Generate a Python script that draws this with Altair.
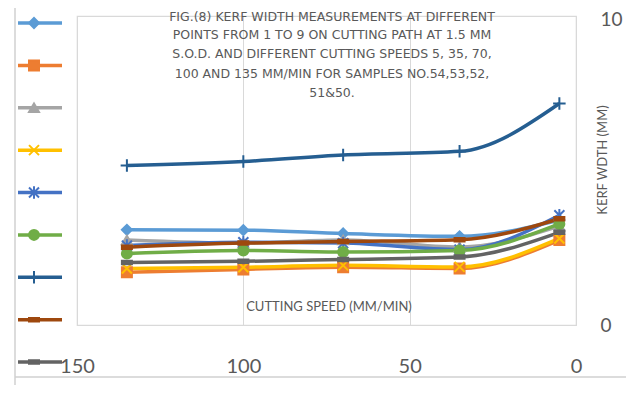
import altair as alt
import pandas as pd

# ---- data ----
speeds = [135, 100, 70, 35, 5]
series_names = ["Point 1", "Point 2", "Point 3", "Point 4", "Point 5",
                "Point 6", "Point 7", "Point 8", "Point 9"]
p1 = [3.08, 3.07, 2.96, 2.87, 3.40]
p2 = [1.71, 1.80, 1.87, 1.83, 2.75]
p3 = [2.75, 2.65, 2.75, 2.52, 3.20]
p4 = [1.83, 1.87, 1.93, 1.88, 2.80]
p5 = [2.57, 2.68, 2.65, 2.44, 3.55]
p6 = [2.31, 2.41, 2.36, 2.41, 3.27]
p7 = [5.16, 5.29, 5.50, 5.62, 7.17]
p8 = [2.52, 2.65, 2.70, 2.76, 3.44]
p9 = [2.02, 2.06, 2.12, 2.20, 3.00]
all_values = [p1, p2, p3, p4, p5, p6, p7, p8, p9]

colors = ["#5B9BD5", "#ED7D31", "#A5A5A5", "#FFC000", "#4472C4",
          "#70AD47", "#255E91", "#9E480E", "#636363"]
shapes = ["diamond", "square", "triangle-up",
          "M-1,-1L1,1M-1,1L1,-1",
          "M-1,-1L1,1M-1,1L1,-1M0,-1.25L0,1.25",
          "circle",
          "M-1.25,0L1.25,0M0,-1.25L0,1.25",
          "M-1,-0.35L1,-0.35L1,0.35L-1,0.35Z",
          "M-1,-0.35L1,-0.35L1,0.35L-1,0.35Z"]

title_lines = [
    "FIG.(8) KERF WIDTH MEASUREMENTS AT DIFFERENT",
    "POINTS FROM 1 TO 9 ON CUTTING PATH AT 1.5 MM",
    "S.O.D. AND DIFFERENT CUTTING SPEEDS 5, 35, 70,",
    "100 AND 135 MM/MIN FOR SAMPLES NO.54,53,52,",
    "51&50.",
]
x_title = "CUTTING SPEED (MM/MIN)"
y_title = "KERF WDTH (MM)"
x_ticks = [0, 50, 100, 150]
y_ticks = [0, 10]

rows = []
for name, vals in zip(series_names, all_values):
    for s, v in zip(speeds, vals):
        rows.append({"series": name, "speed": s, "kerf": v})
df = pd.DataFrame(rows)
legend_df = pd.DataFrame({"series": series_names, "idx": list(range(len(series_names)))})
one = pd.DataFrame({"a": [0]})

TXT = "#595959"
FONT = "Lato"

cscale = alt.Scale(domain=series_names, range=colors)
sscale = alt.Scale(domain=series_names, range=shapes)
xscale = alt.Scale(domain=[0, 150], reverse=True, nice=False)
yscale = alt.Scale(domain=[0, 10], nice=False)

x_axis = alt.Axis(values=x_ticks, grid=True, gridColor="#d9d9d9", domain=False,
                  ticks=False, labelFontSize=20, labelFont=FONT, labelColor=TXT,
                  labelPadding=31, labelFlush=False, title=None)
x_enc = alt.X("speed:Q", scale=xscale, axis=x_axis)

y_axis = alt.Axis(orient="right", values=y_ticks, grid=False, domain=False, ticks=False,
                  labelFontSize=19, labelFont=FONT, labelColor=TXT, labelPadding=24,
                  labelFlush=False, title=None,
                  labelOffset={"condition": {"test": "datum.value === 10", "value": 3}, "value": 0})

lines = alt.Chart(df).mark_line(interpolate="monotone", strokeWidth=3.5).encode(
    x=x_enc,
    y=alt.Y("kerf:Q", scale=yscale, axis=y_axis),
    color=alt.Color("series:N", scale=cscale, legend=None),
)

points = alt.Chart(df).mark_point(filled=True, size=100, strokeWidth=2, opacity=1).encode(
    x=x_enc,
    y=alt.Y("kerf:Q", scale=yscale, axis=None),
    fill=alt.Fill("series:N", scale=cscale, legend=None),
    stroke=alt.Stroke("series:N", scale=cscale, legend=None),
    shape=alt.Shape("series:N", scale=sscale, legend=None),
)

# manual legend on the left
leg_y = alt.Y("idx:Q", scale=alt.Scale(domain=[0, 8], range=[7, 346], nice=False), axis=None)
leg_rules = alt.Chart(legend_df).mark_rule(strokeWidth=3.5).encode(
    x=alt.value(-59), x2=alt.value(-15), y=leg_y,
    color=alt.Color("series:N", scale=cscale, legend=None),
)
leg_points = alt.Chart(legend_df).mark_point(filled=True, size=100, strokeWidth=2, opacity=1).encode(
    x=alt.value(-43), y=leg_y,
    fill=alt.Fill("series:N", scale=cscale, legend=None),
    stroke=alt.Stroke("series:N", scale=cscale, legend=None),
    shape=alt.Shape("series:N", scale=sscale, legend=None),
)

# frame lines of the chart area
frame_v = alt.Chart(one).mark_rule(color="#d0d0d0", strokeWidth=1.5).encode(
    x=alt.value(-62), y=alt.value(-8), y2=alt.value(380))
frame_h = alt.Chart(one).mark_rule(color="#d0d0d0", strokeWidth=1.5).encode(
    x=alt.value(-62), x2=alt.value(560), y=alt.value(361))

texts = []
title_ys = [1, 19, 38, 58, 77]
for line, ty in zip(title_lines, title_ys):
    texts.append(alt.Chart(one).mark_text(font="DejaVu Sans", fontSize=12.5, color=TXT,
                                          align="center", baseline="middle").encode(
        x=alt.value(255), y=alt.value(ty), text=alt.value(line)))
texts.append(alt.Chart(one).mark_text(font=FONT, fontSize=13, color=TXT, align="center",
                                      baseline="middle").encode(
    x=alt.value(252), y=alt.value(291), text=alt.value(x_title)))
texts.append(alt.Chart(one).mark_text(font=FONT, fontSize=13, color=TXT, align="center",
                                      baseline="middle", angle=270).encode(
    x=alt.value(526), y=alt.value(144), text=alt.value(y_title)))

chart = alt.layer(frame_v, frame_h, lines, points, leg_rules, leg_points, *texts).resolve_scale(
    y="independent"
).properties(
    width=499, height=309,
    padding={"left": 69, "top": 8, "right": 50, "bottom": 60},
    autosize=alt.AutoSizeParams(type="none"),
    background="white",
).configure_view(stroke="#d9d9d9", strokeWidth=1.2)

chart.save("out.html", embed_options={"renderer": "svg", "actions": False})
